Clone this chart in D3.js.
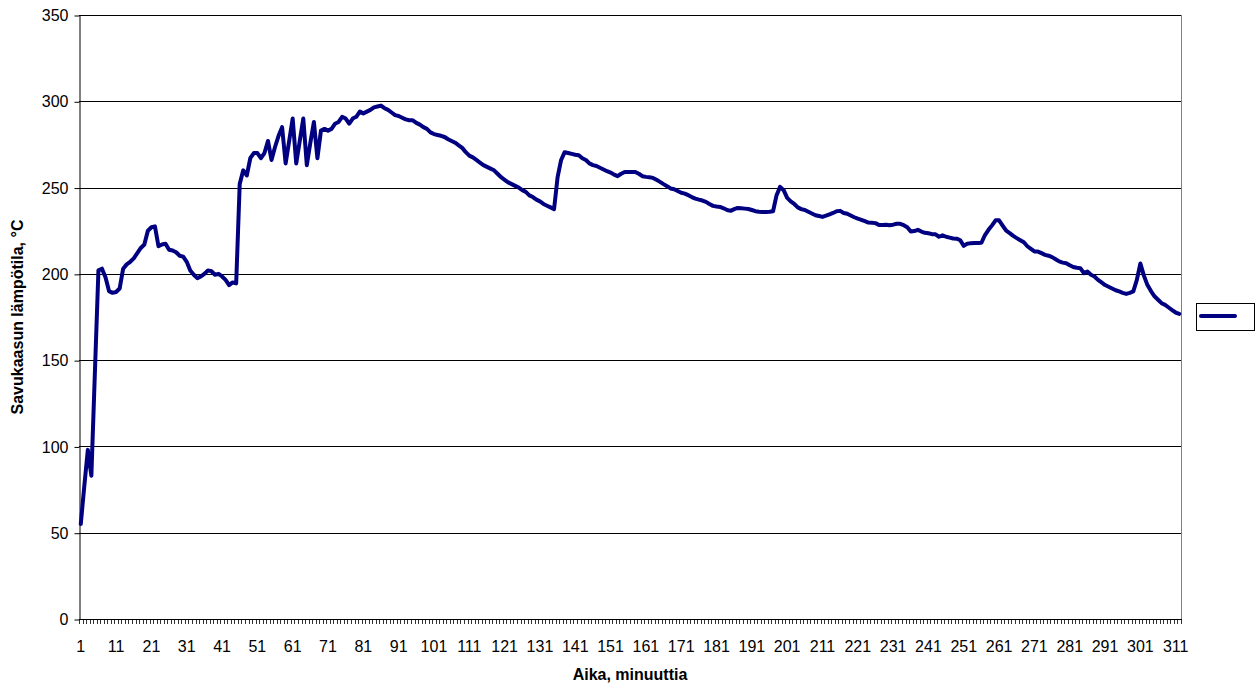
<!DOCTYPE html>
<html>
<head>
<meta charset="utf-8">
<script src="https://cdn.jsdelivr.net/npm/d3@7"></script>
<style>
  body { margin: 0; background: #fff; }
  svg { display: block; font-family: Arial, "Liberation Sans", sans-serif; }
</style>
</head>
<body>
<svg id="chart" width="1258" height="686"></svg>
<script>
// minute index 1..312
var minutes = d3.range(1, 313)

// flue gas temperature, °C, one value per minute
var temps = [
  55, 77, 98, 83, 143, 202, 203, 198, 190, 189,
  189.5, 191.5, 203, 205.5, 207, 209, 212, 215, 217, 225,
  227, 227.5, 216, 217, 217.5, 214, 213.5, 212.5, 210.5, 210,
  207, 202, 199.5, 197.5, 198.5, 200, 202, 201.5, 199.5, 200,
  198.5, 196.5, 193.5, 195, 194.5, 252, 260, 257, 267, 270,
  270, 267, 270, 277, 266, 273.5, 280, 285, 264, 277,
  290, 264, 277, 290, 263, 276, 288, 267, 283, 284,
  283, 284, 287, 288, 291, 290, 287, 290, 291, 294,
  293, 294, 295, 296.5, 297, 297.5, 296, 295, 293.5, 292,
  291.5, 290.5, 289.5, 289, 289, 287.5, 286.5, 285, 284, 282,
  281, 280.5, 280, 279.3, 278, 277, 276, 274.5, 273, 270.5,
  268.5, 267.5, 266, 264.5, 263, 262, 261, 260, 258, 256,
  254.5, 253, 252, 251, 250, 248.5, 247.5, 245.5, 244.5, 243,
  242, 240.5, 239.5, 238.5, 237.5, 256, 266, 270.5, 270, 269.5,
  269, 268.7, 267, 266, 264, 263, 262.5, 261.5, 260.5, 259.5,
  258.7, 257.5, 256.6, 258, 259, 259, 259, 259, 258, 256.6,
  256.2, 256, 255.6, 254.5, 253.3, 252, 250.8, 249.5, 249, 248,
  247, 246.5, 245.6, 244.5, 243.6, 243, 242.5, 241.7, 240.5, 239.4,
  239, 238.8, 238, 237, 236.5, 237.5, 238.2, 238, 237.8, 237.6,
  237, 236.3, 236, 235.9, 235.8, 236, 236.3, 245.6, 250.4, 248.5,
  244, 242, 240.5, 238.5, 237.5, 237, 236, 235, 234, 233.5,
  233, 233.7, 234.5, 235.3, 236.3, 236.5, 235.3, 234.8, 233.8, 232.8,
  232, 231.3, 230.5, 229.7, 229.6, 229.4, 228.3, 228.3, 228.5, 228.2,
  228.5, 229, 229, 228.2, 227, 224.5, 224.8, 225.5, 224.5, 223.8,
  223.5, 223, 222.9, 221.5, 222.3, 221.5, 221, 220.5, 220.4, 219.5,
  216.2, 217.5, 217.8, 217.9, 217.9, 218, 222.5, 225.5, 228.1, 231,
  231, 228, 225, 223.6, 222, 220.7, 219.5, 218.3, 216, 214.5,
  213, 212.9, 212, 211, 210.5, 209.7, 208.5, 207.2, 206.5, 206.2,
  205, 204, 203.5, 203.3, 200.4, 201.4, 199.5, 198.5, 196.5, 195,
  193.5, 192.5, 191.5, 190.5, 189.8, 189, 188.4, 189, 189.8, 196.5,
  206, 199, 193.5, 190, 187, 185, 183, 182, 180.5, 179,
  177.6, 176.8
]

var yTicks = [0, 50, 100, 150, 200, 250, 300, 350]
var xLabels = minutes.filter(function (m) { return (m - 1) % 10 === 0 })

var yTitle = 'Savukaasun lämpötila, °C'
var xTitle = 'Aika, minuuttia'

var svg = d3.select('#chart')
var plotLeft = 79, plotRight = 1181, plotTop = 15, plotBottom = 619

var x = d3.scaleBand()
    .domain(minutes)
    .range([plotLeft, plotRight])
    .padding(0)

var y = d3.scaleLinear()
    .domain([0, 350])
    .range([plotBottom, plotTop])

// gridlines
svg.append('g')
  .selectAll('line')
  .data(yTicks.filter(function (d) { return d > 0 }))
  .enter().append('line')
    .attr('x1', plotLeft)
    .attr('x2', plotRight)
    .attr('y1', function (d) { return Math.round(y(d)) + 0.5 })
    .attr('y2', function (d) { return Math.round(y(d)) + 0.5 })
    .attr('stroke', '#000')
    .attr('stroke-width', 1)

// right border of plot area
svg.append('line')
    .attr('x1', plotRight + 0.5).attr('x2', plotRight + 0.5)
    .attr('y1', plotTop).attr('y2', plotBottom)
    .attr('stroke', '#808080')

// y axis
var yAxis = svg.append('g')
    .attr('transform', 'translate(' + (plotLeft + 0.5) + ',0.5)')
    .call(d3.axisLeft(y).tickValues(yTicks).tickSize(5).tickPadding(6).tickSizeOuter(0))
yAxis.select('.domain').attr('stroke', '#000')
yAxis.selectAll('.tick line').attr('stroke', '#000')
yAxis.selectAll('text')
    .attr('font-size', 16)
    .attr('font-family', 'Arial, "Liberation Sans", sans-serif')
    .attr('fill', '#000')

// x axis: a tick at every category boundary, a label every 10th
var xa = svg.append('g')
xa.append('line')
    .attr('x1', plotLeft).attr('x2', plotRight + 1)
    .attr('y1', plotBottom + 0.5).attr('y2', plotBottom + 0.5)
    .attr('stroke', '#000')
xa.selectAll('line.tk')
  .data(minutes.concat([null]))
  .enter().append('line')
    .attr('class', 'tk')
    .attr('x1', function (d) { return d === null ? plotRight + 0.5 : Math.round(x(d)) + 0.5 })
    .attr('x2', function (d) { return d === null ? plotRight + 0.5 : Math.round(x(d)) + 0.5 })
    .attr('y1', plotBottom)
    .attr('y2', plotBottom + 5)
    .attr('stroke', '#000')
    .attr('stroke-width', 0.8)
xa.selectAll('text')
  .data(xLabels)
  .enter().append('text')
    .attr('x', function (d) { return x(d) + x.bandwidth() / 2 })
    .attr('y', 652)
    .attr('text-anchor', 'middle')
    .attr('font-size', 16)
    .text(function (d) { return d })

// series
var line = d3.line()
    .x(function (d, i) { return x(minutes[i]) + x.bandwidth() / 2 })
    .y(function (d) { return y(d) })

svg.append('path')
    .datum(temps)
    .attr('d', line)
    .attr('fill', 'none')
    .attr('stroke', '#000080')
    .attr('stroke-width', 4)
    .attr('stroke-linejoin', 'round')
    .attr('stroke-linecap', 'round')

// axis titles
svg.append('text')
    .attr('x', (plotLeft + plotRight) / 2)
    .attr('y', 680)
    .attr('text-anchor', 'middle')
    .attr('font-size', 16)
    .attr('font-weight', 'bold')
    .text(xTitle)

svg.append('text')
    .attr('transform', 'translate(23,' + (plotTop + plotBottom) / 2 + ') rotate(-90)')
    .attr('text-anchor', 'middle')
    .attr('font-size', 16)
    .attr('font-weight', 'bold')
    .text(yTitle)

// legend (entry has no label)
var lg = svg.append('g')
lg.append('rect')
    .attr('x', 1196.5).attr('y', 303.5)
    .attr('width', 58).attr('height', 27)
    .attr('fill', '#fff')
    .attr('stroke', '#000')
lg.append('line')
    .attr('x1', 1201).attr('x2', 1235)
    .attr('y1', 316).attr('y2', 316)
    .attr('stroke', '#000080')
    .attr('stroke-width', 4)
    .attr('stroke-linecap', 'round')
</script>
</body>
</html>
